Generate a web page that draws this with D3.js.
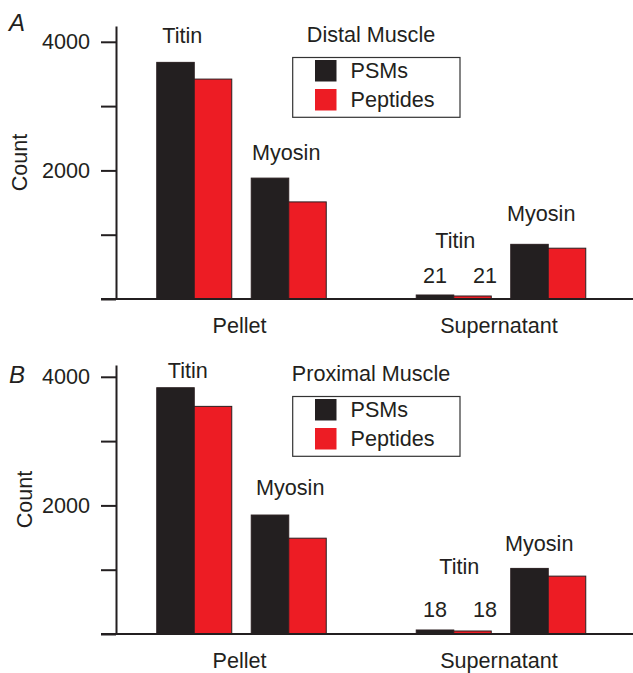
<!DOCTYPE html>
<html><head><meta charset="utf-8">
<script src="https://cdn.jsdelivr.net/npm/d3@7"></script>
<style>
html,body{margin:0;padding:0;background:#fff;}
text{font-family:"Liberation Sans",Arial,Helvetica,sans-serif;fill:#231f20;}
</style></head>
<body>
<svg id="chart" width="633" height="673"></svg>
<script>
// ---- data ----
const fractions = ["Pellet", "Supernatant"];
const proteins = ["Titin", "Myosin"];
const series = ["PSMs", "Peptides"];
// order: Pellet-Titin, Pellet-Myosin, Supernatant-Titin, Supernatant-Myosin
const distalPSMs = [3680, 1880, 21, 850];
const distalPeptides = [3420, 1510, 21, 790];
const proximalPSMs = [3830, 1850, 18, 1020];
const proximalPeptides = [3540, 1490, 18, 900];
const yTickValues = [0, 1000, 2000, 3000, 4000];
const yTickLabels = ["", "", "2000", "", "4000"];
const panelTitles = ["Distal Muscle", "Proximal Muscle"];
const panelLetters = ["A", "B"];
const colors = {PSMs: "#231f20", Peptides: "#ed1c24"};

// ---- layout (styles/positions) ----
const FS = 21.6;
const k = 0.0643; // px per count
const minBarPx = 4; // minimum drawn height so tiny bars stay visible
const panels = [
  {letter: panelLetters[0], title: panelTitles[0], psm: distalPSMs, pep: distalPeptides,
   top: 26, bottom: 299, letterY: 31, countX: 27,
   labelOff: [[-12, -19], [-2.5, -18], [1.5, -50], [-7, -23]], numY: -16},
  {letter: panelLetters[1], title: panelTitles[1], psm: proximalPSMs, pep: proximalPeptides,
   top: 365, bottom: 634, letterY: 382.7, countX: 31.5,
   labelOff: [[-6.5, -9.4], [1.5, -20], [5.5, -59], [-9, -17]], numY: -17.3}
];

const svg = d3.select("#chart");
const axisX = 116, axisRight = 633;

const x0 = d3.scalePoint().domain(fractions).range([241.5, 501]);
const x1 = d3.scaleBand().domain(proteins).range([-84.75, 84.75]).paddingInner(0.2063);
const x2 = d3.scaleBand().domain(series).range([0, x1.bandwidth()]);

panels.forEach(p => {
  const g = svg.append("g");
  const yMax = (p.bottom - p.top) / k;
  const y = d3.scaleLinear().domain([0, yMax]).range([p.bottom, p.top]);

  const rows = [];
  fractions.forEach((f, fi) => proteins.forEach((pr, pi) => {
    const i = fi * 2 + pi;
    rows.push({fraction: f, protein: pr, idx: i, vals: {PSMs: p.psm[i], Peptides: p.pep[i]}});
  }));

  // bars
  rows.forEach(r => {
    const gx = x0(r.fraction) + x1(r.protein);
    series.forEach((s, si) => {
      const h = Math.max(y(0) - y(r.vals[s]), minBarPx - si);
      g.append("rect")
        .attr("x", gx + x2(s))
        .attr("y", y(0) - h)
        .attr("width", x2.bandwidth())
        .attr("height", h)
        .attr("fill", colors[s])
        .attr("stroke", "#2a1f20")
        .attr("stroke-width", 1);
    });
    // protein label
    const cx = gx + x1.bandwidth() / 2;
    const top = y(d3.max(series, s => r.vals[s]));
    const off = p.labelOff[r.idx];
    g.append("text").attr("x", cx + off[0]).attr("y", top + off[1])
      .attr("text-anchor", "middle").attr("font-size", FS).text(r.protein);
    // small value labels for tiny bars
    if (r.vals.PSMs < 100) {
      series.forEach((s, si) => {
        g.append("text")
          .attr("x", gx + x2(s) + x2.bandwidth() / 2 + (si === 1 ? 12.5 : 0))
          .attr("y", y(0) + p.numY)
          .attr("text-anchor", "middle").attr("font-size", FS)
          .text(r.vals[s]);
      });
    }
  });

  // y axis
  const ax = g.append("g").attr("transform", `translate(${axisX},0)`)
    .call(d3.axisLeft(y).tickValues(yTickValues)
      .tickFormat((d, i) => yTickLabels[i])
      .tickSize(15).tickPadding(11).tickSizeOuter(0));
  ax.selectAll("path,line").attr("stroke", "#231f20").attr("stroke-width", 2);
  ax.selectAll("text").attr("font-size", FS)
    .style("font-family", '"Liberation Sans",Arial,sans-serif').attr("fill", "#231f20");

  // x baseline
  g.append("line").attr("x1", axisX - 15).attr("x2", axisRight)
    .attr("y1", y(0)).attr("y2", y(0))
    .attr("stroke", "#231f20").attr("stroke-width", 2);

  // fraction labels
  fractions.forEach(f => {
    g.append("text").attr("x", x0(f) - 2).attr("y", y(0) + 33.5)
      .attr("text-anchor", "middle").attr("font-size", FS).text(f);
  });

  // y axis title
  g.append("text")
    .attr("transform", `translate(${p.countX},${(p.top + p.bottom) / 2}) rotate(-90)`)
    .attr("text-anchor", "middle").attr("font-size", FS).text("Count");

  // panel letter
  g.append("text").attr("x", 9).attr("y", p.letterY)
    .attr("font-size", 24).attr("font-style", "italic").text(p.letter);

  // title + legend
  g.append("text").attr("x", 371).attr("y", p.top + 16.3)
    .attr("text-anchor", "middle").attr("font-size", FS).text(p.title);
  g.append("rect").attr("x", 292.7).attr("y", p.top + 31.5)
    .attr("width", 167.3).attr("height", 59.8)
    .attr("fill", "none").attr("stroke", "#333").attr("stroke-width", 1.2);
  series.forEach((s, i) => {
    const yy = p.top + 34 + i * 29;
    g.append("rect").attr("x", 315).attr("y", yy).attr("width", 21.5).attr("height", 21.5)
      .attr("fill", colors[s]);
    g.append("text").attr("x", 350.5).attr("y", yy + 18.3)
      .attr("font-size", FS).text(s);
  });
});
</script>
</body></html>
